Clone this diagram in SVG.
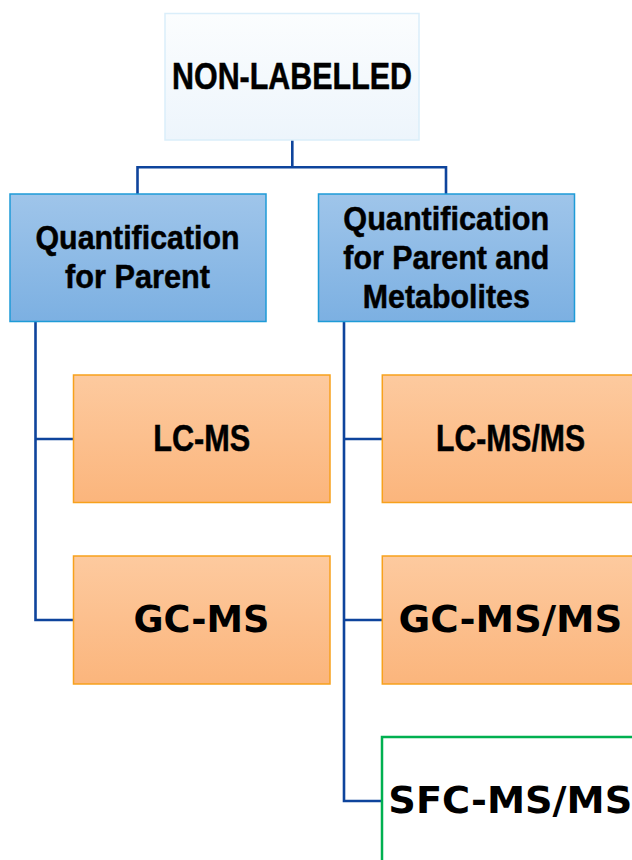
<svg xmlns="http://www.w3.org/2000/svg" width="632" height="860" viewBox="0 0 632 860">
  <defs>
    <linearGradient id="gTop" x1="0" y1="0" x2="0" y2="1">
      <stop offset="0" stop-color="#FBFDFE"/>
      <stop offset="1" stop-color="#EDF5FC"/>
    </linearGradient>
    <linearGradient id="gBlue" x1="0" y1="0" x2="0" y2="1">
      <stop offset="0" stop-color="#9FC5EA"/>
      <stop offset="1" stop-color="#7CB0E2"/>
    </linearGradient>
    <linearGradient id="gOrange" x1="0" y1="0" x2="0" y2="1">
      <stop offset="0" stop-color="#FDCA9F"/>
      <stop offset="1" stop-color="#FBB57C"/>
    </linearGradient>
  </defs>
  <style>
    .top { fill: url(#gTop); stroke: #DAEEFA; stroke-width: 1.5; }
    .cat { fill: url(#gBlue); stroke: #1E9BD7; stroke-width: 1.5; }
    .tech { fill: url(#gOrange); stroke: #F7A11C; stroke-width: 1.5; }
    .tech2 { fill: #FFFFFF; stroke: #00B050; stroke-width: 2.5; }
    .narrow { font-family: "Liberation Sans Narrow", "Liberation Sans", Arial, sans-serif; font-weight: bold; fill: #000; stroke: #000; stroke-width: 0.5; text-anchor: middle; }
    .wide { font-family: "DejaVu Sans", Verdana, sans-serif; font-weight: bold; fill: #000; }
    .link { fill: none; stroke: #0E449C; stroke-width: 2.6; }
  </style>

  <!-- connectors -->
  <g id="connectors">
    <path class="link" d="M292.3 140 V167.3 M137.5 167.3 H446 M137.5 166 V194 M446 166 V194"/>
    <path class="link" d="M35.5 322 V620 H73.5 M35.5 439 H73.5"/>
    <path class="link" d="M344 322 V801 H382 M344 439 H382 M344 620 H382"/>
  </g>

  <g id="non-labelled">
    <rect class="top" x="165" y="13.5" width="254" height="126.5"/>
    <text class="narrow" x="292" y="89.3" font-size="36" textLength="240" lengthAdjust="spacingAndGlyphs">NON-LABELLED</text>
  </g>

  <g id="parent">
    <rect class="cat" x="10" y="194" width="256" height="127.5"/>
    <text class="narrow" x="137.5" y="249.3" font-size="34" textLength="204" lengthAdjust="spacingAndGlyphs">Quantification</text>
    <text class="narrow" x="137.5" y="288.3" font-size="34" textLength="145" lengthAdjust="spacingAndGlyphs">for Parent</text>
  </g>

  <g id="parent-metabolites">
    <rect class="cat" x="318.5" y="194" width="256" height="127.5"/>
    <text class="narrow" x="446.3" y="230" font-size="34" textLength="206" lengthAdjust="spacingAndGlyphs">Quantification</text>
    <text class="narrow" x="446.3" y="269.3" font-size="34" textLength="206" lengthAdjust="spacingAndGlyphs">for Parent and</text>
    <text class="narrow" x="446.3" y="308.3" font-size="34" textLength="167" lengthAdjust="spacingAndGlyphs">Metabolites</text>
  </g>

  <g id="lc-ms">
    <rect class="tech" x="73.5" y="375" width="256.5" height="127.5"/>
    <text class="narrow" x="201.7" y="450.7" font-size="37" textLength="97" lengthAdjust="spacingAndGlyphs">LC-MS</text>
  </g>

  <g id="gc-ms">
    <rect class="tech" x="73.5" y="556" width="256.5" height="128"/>
    <text class="wide" x="201.5" y="631.7" font-size="36.5" text-anchor="middle" textLength="136" lengthAdjust="spacingAndGlyphs">GC-MS</text>
  </g>

  <g id="lc-msms">
    <rect class="tech" x="382.3" y="375" width="256.5" height="127.5"/>
    <text class="narrow" x="510.5" y="451" font-size="37" textLength="149" lengthAdjust="spacingAndGlyphs">LC-MS/MS</text>
  </g>

  <g id="gc-msms">
    <rect class="tech" x="382.3" y="556" width="256.5" height="128"/>
    <text class="wide" x="510.5" y="631.7" font-size="36.5" text-anchor="middle" textLength="224" lengthAdjust="spacingAndGlyphs">GC-MS/MS</text>
  </g>

  <g id="sfc-msms">
    <rect class="tech2" x="382" y="737" width="256.5" height="128"/>
    <text class="wide" x="388.3" y="812.7" font-size="36.5" textLength="244" lengthAdjust="spacingAndGlyphs">SFC-MS/MS</text>
  </g>
</svg>
